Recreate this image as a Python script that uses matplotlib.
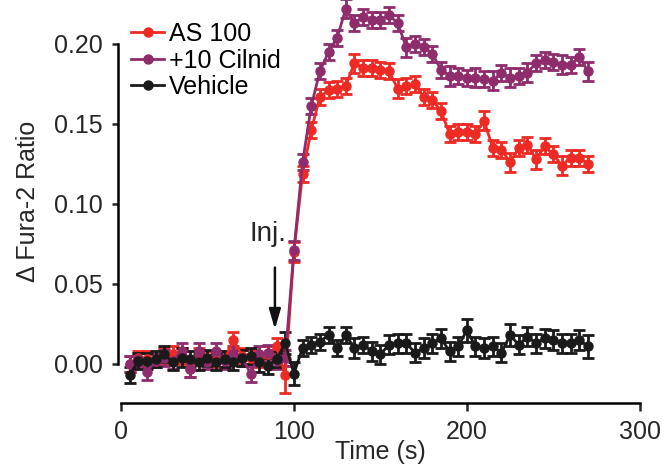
import numpy as np
import matplotlib
matplotlib.use("Agg")
import matplotlib.pyplot as plt

plt.rcParams["font.family"] = ["Liberation Sans", "DejaVu Sans"]

# --- Data ------------------------------------------------------------------
time_s = np.arange(5, 275, 5)

as100 = [0.000, 0.004, 0.003, 0.002, 0.005, 0.006, 0.005, -0.003, 0.005, 0.004,
         0.003, 0.003, 0.015, 0.005, 0.004, 0.002, 0.006, 0.011, -0.007,
         0.070, 0.119, 0.146, 0.167, 0.171, 0.172, 0.174, 0.188, 0.185, 0.185,
         0.184, 0.183, 0.172, 0.174, 0.175, 0.167, 0.165, 0.158, 0.144, 0.145,
         0.145, 0.144, 0.152, 0.135, 0.134, 0.126, 0.135, 0.137, 0.128, 0.136,
         0.131, 0.124, 0.129, 0.129, 0.125]
as100_sem = [0.005, 0.004, 0.005, 0.004, 0.005, 0.005, 0.005, 0.005, 0.005, 0.004,
             0.005, 0.005, 0.005, 0.005, 0.005, 0.004, 0.005, 0.005, 0.011,
             0.006, 0.005, 0.005, 0.005, 0.005, 0.005, 0.005, 0.006, 0.005, 0.005,
             0.005, 0.005, 0.006, 0.005, 0.005, 0.005, 0.005, 0.005, 0.005, 0.005,
             0.005, 0.005, 0.006, 0.005, 0.005, 0.006, 0.005, 0.005, 0.006, 0.005,
             0.005, 0.006, 0.005, 0.005, 0.005]

cilnid = [0.000, 0.003, -0.005, 0.002, 0.004, 0.002, 0.008, -0.003, 0.008, 0.001,
          0.008, 0.002, 0.006, 0.004, -0.006, 0.006, 0.007, 0.002, 0.004,
          0.071, 0.126, 0.161, 0.183, 0.195, 0.204, 0.222, 0.213, 0.217, 0.215,
          0.215, 0.218, 0.213, 0.198, 0.200, 0.198, 0.194, 0.184, 0.180, 0.180,
          0.179, 0.179, 0.178, 0.177, 0.182, 0.179, 0.180, 0.182, 0.188, 0.190,
          0.189, 0.187, 0.187, 0.192, 0.183]
cilnid_sem = [0.005, 0.004, 0.005, 0.004, 0.005, 0.005, 0.005, 0.005, 0.005, 0.004,
              0.005, 0.005, 0.005, 0.005, 0.005, 0.005, 0.005, 0.005, 0.005,
              0.006, 0.005, 0.005, 0.005, 0.005, 0.005, 0.006, 0.005, 0.005, 0.005,
              0.005, 0.005, 0.005, 0.006, 0.005, 0.005, 0.005, 0.005, 0.006, 0.005,
              0.005, 0.006, 0.005, 0.006, 0.005, 0.006, 0.005, 0.006, 0.005, 0.005,
              0.005, 0.006, 0.005, 0.005, 0.006]

vehicle = [-0.007, 0.002, 0.002, 0.003, 0.006, 0.001, 0.004, 0.003, 0.001, 0.004,
           0.001, 0.003, 0.001, 0.004, 0.005, 0.001, -0.001, 0.003, 0.013,
           -0.006, 0.010, 0.012, 0.014, 0.018, 0.010, 0.018, 0.010, 0.012, 0.008,
           0.006, 0.012, 0.013, 0.013, 0.007, 0.010, 0.013, 0.016, 0.008, 0.011,
           0.021, 0.011, 0.010, 0.011, 0.007, 0.018, 0.012, 0.017, 0.013, 0.016,
           0.015, 0.013, 0.013, 0.015, 0.011]
vehicle_sem = [0.005, 0.005, 0.005, 0.005, 0.005, 0.005, 0.006, 0.005, 0.005, 0.005,
               0.005, 0.005, 0.005, 0.005, 0.005, 0.006, 0.005, 0.005, 0.007,
               0.007, 0.005, 0.005, 0.005, 0.005, 0.005, 0.005, 0.006, 0.005, 0.006,
               0.006, 0.006, 0.006, 0.006, 0.006, 0.006, 0.006, 0.006, 0.006, 0.006,
               0.007, 0.006, 0.006, 0.006, 0.006, 0.007, 0.006, 0.006, 0.006, 0.006,
               0.006, 0.006, 0.006, 0.006, 0.007]

series = [("AS 100", as100, as100_sem, "#ee2a24"),
          ("+10 Cilnid", cilnid, cilnid_sem, "#8e2c6c"),
          ("Vehicle", vehicle, vehicle_sem, "#1a1a1a")]

TXT = "#262626"

# --- Figure -----------------------------------------------------------------
fig = plt.figure(figsize=(6.65, 4.65), dpi=100)
ax = fig.add_axes([0.182, 0.1333, 0.962 - 0.182, 1.0 - 0.1333])

handles = []
for label, y, err, col in series:
    c = ax.errorbar(time_s, y, yerr=err, color=col, marker="o", markersize=6.5,
                    linewidth=2.0, elinewidth=2.0, capsize=4, capthick=2.0,
                    label=label, clip_on=False)
    handles.append(c[0])   # legend shows line+marker only, no error bar

ax.set_xlim(0, 300)
ax.set_ylim(-0.0244, 0.2275)
ax.set_xticks([0, 100, 200, 300])
ax.set_yticks([0.0, 0.05, 0.10, 0.15, 0.20])
ax.set_yticklabels(["0.00", "0.05", "0.10", "0.15", "0.20"])

for s in ("top", "right"):
    ax.spines[s].set_visible(False)
ax.spines["left"].set_bounds(0, 0.2)
ax.spines["left"].set_position(("outward", 2))
ax.spines["bottom"].set_bounds(0, 300)
for s in ("left", "bottom"):
    ax.spines[s].set_linewidth(1.8)
ax.tick_params(axis="both", direction="out", width=1.8, labelsize=18,
               colors=TXT)
ax.tick_params(axis="y", length=4, pad=7)
ax.tick_params(axis="x", length=6, pad=6)

ax.set_xlabel("Time (s)", fontsize=18, labelpad=-3, color=TXT)
ax.set_ylabel("\u0394 Fura-2 Ratio", fontsize=18, labelpad=10, color=TXT)

# injection marker
ax.annotate("", xy=(89, 0.020), xytext=(89, 0.062),
            arrowprops=dict(arrowstyle="-|>,head_width=0.35,head_length=1.2",
                            color="#111111", lw=1.8))
ax.text(85, 0.081, "Inj.", fontsize=20, ha="center", va="center", color=TXT)

ax.legend(handles, [s[0] for s in series], loc="upper left",
          bbox_to_anchor=(0.02, 0.945), frameon=False,
          fontsize=18, handlelength=1.3, handletextpad=0.2,
          labelspacing=0.1, borderpad=0.0, borderaxespad=0.0)

fig.savefig("out.png", dpi=100)
